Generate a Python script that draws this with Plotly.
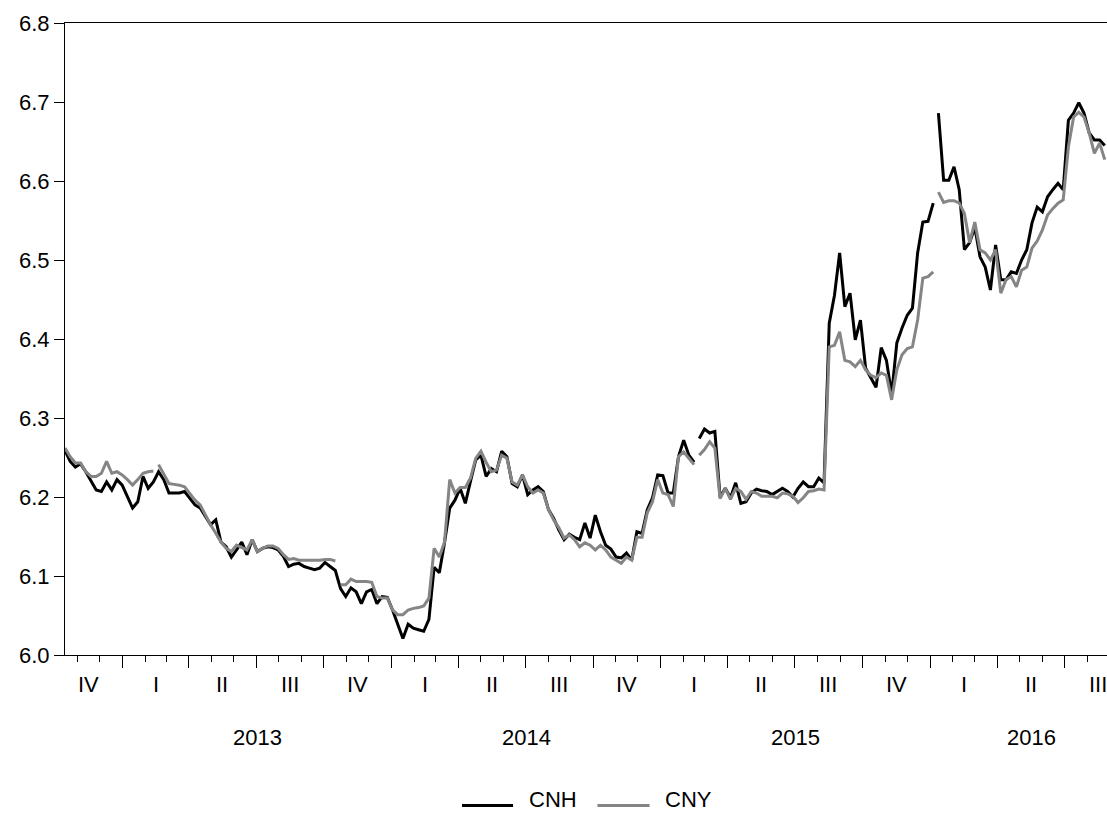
import pandas as pd
import plotly.graph_objects as go

# ---------------- data (weekly readings, Oct 2012 - Aug 2016) ----------------
START_DATE = "2012-10-15"
END_DATE = "2016-08-25"

CNH = [
    6.259, 6.245, 6.238, 6.242, 6.232, 6.220, 6.209, 6.207, 6.219, 6.209,
    6.222, 6.215, 6.200, 6.186, 6.194, 6.226, 6.211, 6.219, 6.232, 6.222,
    6.205, 6.205, 6.205, 6.207, 6.198, 6.190, 6.186, 6.175, 6.165, 6.171,
    6.143, 6.137, 6.124, 6.133, 6.143, 6.127, 6.146, 6.131, 6.135, 6.137,
    6.136, 6.133, 6.125, 6.112, 6.115, 6.116, 6.112, 6.110, 6.108, 6.110,
    6.117, 6.112, 6.107, 6.084, 6.074, 6.085, 6.080, 6.065, 6.080, 6.083,
    6.065, 6.074, 6.073, 6.057, 6.038, 6.021, 6.039, 6.034, 6.032, 6.030,
    6.045, 6.111, 6.104, 6.142, 6.186, 6.196, 6.211, 6.192, 6.220, 6.247,
    6.253, 6.226, 6.236, 6.232, 6.258, 6.251, 6.217, 6.213, 6.228, 6.203,
    6.209, 6.213, 6.207, 6.184, 6.173, 6.158, 6.146, 6.153, 6.149, 6.146,
    6.167, 6.148, 6.177, 6.156, 6.139, 6.134, 6.124, 6.123, 6.129, 6.120,
    6.156, 6.154, 6.184, 6.199, 6.228, 6.227, 6.205, 6.205, 6.251, 6.272,
    6.253, 6.244, 6.274, 6.286, 6.281, 6.283, 6.200, 6.211, 6.199, 6.218,
    6.192, 6.194, 6.205, 6.210, 6.208, 6.207, 6.203, 6.207, 6.211, 6.207,
    6.200, 6.211, 6.219, 6.213, 6.213, 6.224, 6.218, 6.420, 6.455, 6.509,
    6.441, 6.458, 6.399, 6.424, 6.363, 6.351, 6.339, 6.389, 6.373, 6.330,
    6.395, 6.414, 6.430, 6.439, 6.509, 6.548, 6.549, 6.572, 6.686, 6.601,
    6.601, 6.618, 6.589, 6.513, 6.522, 6.541, 6.504, 6.491, 6.462, 6.519,
    6.475, 6.475, 6.485, 6.483, 6.500, 6.513, 6.547, 6.567, 6.561, 6.580,
    6.589, 6.597, 6.589, 6.677, 6.686, 6.699, 6.686, 6.661, 6.652, 6.652,
    6.645,
]

CNY = [
    6.262, 6.251, 6.243, 6.243, 6.232, 6.226, 6.226, 6.230, 6.245, 6.230,
    6.232, 6.228, 6.222, 6.215, 6.222, 6.230, 6.232, 6.233, 6.241, 6.228,
    6.217, 6.216, 6.215, 6.213, 6.205, 6.196, 6.190, 6.177, 6.165, 6.154,
    6.143, 6.135, 6.131, 6.139, 6.136, 6.133, 6.146, 6.131, 6.135, 6.138,
    6.138, 6.135, 6.127, 6.121, 6.122, 6.120, 6.120, 6.120, 6.120, 6.120,
    6.121, 6.121, 6.119, 6.089, 6.089, 6.096, 6.093, 6.093, 6.093, 6.092,
    6.074, 6.072, 6.072, 6.057, 6.051, 6.051, 6.057, 6.059, 6.060, 6.062,
    6.072, 6.135, 6.124, 6.143, 6.222, 6.205, 6.212, 6.212, 6.224, 6.249,
    6.258, 6.244, 6.232, 6.234, 6.253, 6.249, 6.219, 6.215, 6.228, 6.213,
    6.205, 6.209, 6.205, 6.184, 6.171, 6.161, 6.148, 6.152, 6.146, 6.137,
    6.142, 6.139, 6.133, 6.139, 6.133, 6.124, 6.120, 6.116, 6.124, 6.120,
    6.149, 6.149, 6.180, 6.194, 6.222, 6.205, 6.203, 6.188, 6.251, 6.257,
    6.249, 6.241, 6.253, 6.260, 6.270, 6.262, 6.198, 6.211, 6.197, 6.211,
    6.207, 6.197, 6.207, 6.205, 6.201, 6.201, 6.201, 6.199, 6.205, 6.204,
    6.201, 6.193, 6.199, 6.207, 6.208, 6.210, 6.209, 6.390, 6.392, 6.409,
    6.373, 6.371, 6.365, 6.373, 6.361, 6.354, 6.351, 6.357, 6.354, 6.323,
    6.361, 6.380, 6.388, 6.390, 6.424, 6.477, 6.479, 6.485, 6.586, 6.573,
    6.575, 6.575, 6.572, 6.559, 6.522, 6.548, 6.513, 6.509, 6.500, 6.513,
    6.458, 6.475, 6.479, 6.466, 6.487, 6.491, 6.515, 6.524, 6.538, 6.557,
    6.565, 6.572, 6.576, 6.643, 6.681, 6.687, 6.681, 6.661, 6.635, 6.648,
    6.627,
]

SERIES_NAMES = ["CNH", "CNY"]
SERIES_COLORS = ["#000000", "#858585"]

# indices after which a series has a break (holidays)
CNH_GAPS_AFTER = [121, 167]
CNY_GAPS_AFTER = [17, 52, 121, 167]

QUARTER_LABELS = ["IV", "I", "II", "III", "IV", "I", "II", "III",
                  "IV", "I", "II", "III", "IV", "I", "II", "III"]
FIRST_QUARTER_START = "2012-10-01"
YEAR_LABELS = ["2013", "2014", "2015", "2016"]

Y_TICKS = [6.0, 6.1, 6.2, 6.3, 6.4, 6.5, 6.6, 6.7, 6.8]
X_RANGE = ["2012-10-15", "2016-08-28"]

FONT = "Liberation Sans, Arial, sans-serif"
FS = 22

# ---------------- build ----------------
dates = pd.date_range(START_DATE, END_DATE, periods=len(CNH))


def with_gaps(vals, gaps):
    xs, ys = [], []
    for i, (d, v) in enumerate(zip(dates, vals)):
        xs.append(d)
        ys.append(v)
        if i in gaps and i + 1 < len(dates):
            xs.append(d + (dates[i + 1] - d) / 2)
            ys.append(None)
    return xs, ys


fig = go.Figure()
for name, vals, gaps, col in zip(SERIES_NAMES, [CNH, CNY],
                                 [CNH_GAPS_AFTER, CNY_GAPS_AFTER], SERIES_COLORS):
    xs, ys = with_gaps(vals, gaps)
    fig.add_trace(go.Scatter(x=xs, y=ys, mode="lines", name=name,
                             line=dict(color=col, width=3),
                             connectgaps=False, showlegend=False))

q_starts = pd.date_range(FIRST_QUARTER_START, periods=len(QUARTER_LABELS) + 1, freq="QS")
annotations = []
for i, lab in enumerate(QUARTER_LABELS):
    mid = q_starts[i] + (q_starts[i + 1] - q_starts[i]) / 2
    annotations.append(dict(x=mid, y=-0.047, xref="x", yref="paper", text=lab,
                            showarrow=False, yanchor="middle", xanchor="center",
                            font=dict(family=FONT, size=FS, color="black")))
for yl in YEAR_LABELS:
    yr = int(yl)
    qs = [i for i in range(len(QUARTER_LABELS)) if q_starts[i].year == yr]
    a, b = q_starts[qs[0]], q_starts[qs[-1] + 1]
    mid = a + (b - a) / 2
    annotations.append(dict(x=mid, y=-0.131, xref="x", yref="paper", text=yl,
                            showarrow=False, yanchor="middle", xanchor="center",
                            font=dict(family=FONT, size=FS, color="black")))

# legend drawn below the axis (long line samples, as in the original)
LEG_LINE_X = [(0.381, 0.430), (0.511, 0.561)]
LEG_TEXT_X = [0.443, 0.574]
shapes = []
for (xa, xb), tx, name, col in zip(LEG_LINE_X, LEG_TEXT_X, SERIES_NAMES, SERIES_COLORS):
    shapes.append(dict(type="line", xref="paper", yref="paper",
                       x0=xa, x1=xb, y0=-0.238, y1=-0.238,
                       line=dict(color=col, width=3)))
    annotations.append(dict(x=tx, y=-0.229, xref="paper", yref="paper", text=name,
                            showarrow=False, xanchor="left", yanchor="middle",
                            font=dict(family=FONT, size=FS, color="black")))

fig.update_layout(
    width=1107, height=818,
    margin=dict(l=65, r=0, t=23, b=163),
    paper_bgcolor="white", plot_bgcolor="white",
    font=dict(family=FONT, size=FS, color="black"),
    showlegend=False,
    annotations=annotations,
    shapes=shapes,
)
fig.update_xaxes(
    type="date", range=X_RANGE, showgrid=False, zeroline=False,
    showline=True, linecolor="black", linewidth=1, mirror=True,
    ticks="outside", ticklen=12, tickcolor="black", tickwidth=1,
    tickmode="array", tickvals=list(q_starts[1:]), showticklabels=False,
    minor=dict(ticks="outside", ticklen=6, tickcolor="black", tickwidth=1,
               dtick="M1", tick0="2012-11-01", showgrid=False),
)
fig.update_yaxes(
    range=[6.0, 6.8], showgrid=False, zeroline=False,
    showline=True, linecolor="black", linewidth=1,
    ticks="outside", ticklen=10, tickcolor="black", tickwidth=1,
    tickmode="array", tickvals=Y_TICKS, ticktext=[f"{v:.1f}" for v in Y_TICKS],
    tickfont=dict(family=FONT, size=FS, color="black"),
)

fig.write_html("out.html",
               config={"displayModeBar": False},
               post_script="document.body.style.margin='0';"
                           "document.body.style.overflow='hidden';")
